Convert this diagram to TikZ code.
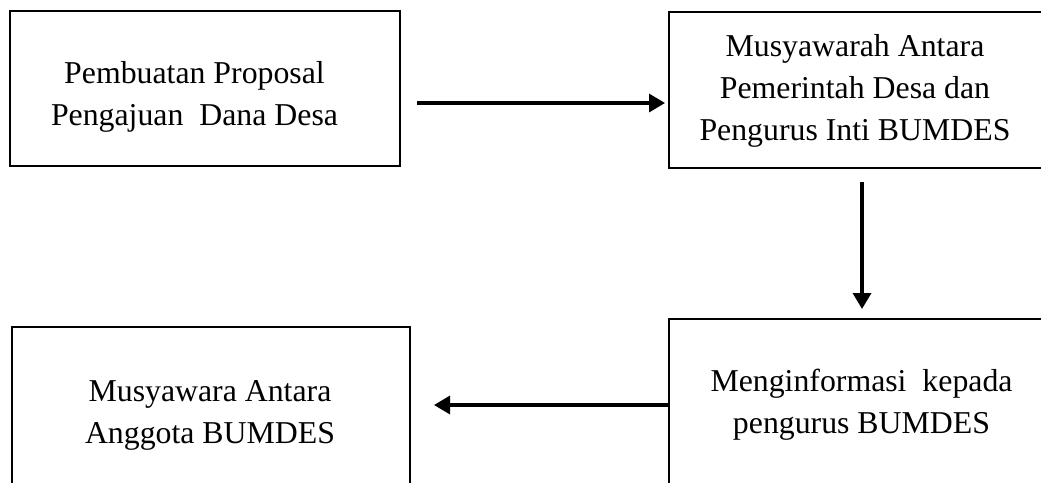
\documentclass[tikz,border=0pt]{standalone}
\usepackage{fontspec}
\setmainfont{Liberation Serif}
\usetikzlibrary{arrows.meta}
\newcommand\linestack[1]{\begin{tabular}[t]{@{}c@{}}#1\end{tabular}}
\begin{document}
\begin{tikzpicture}[x=1pt,y=-1pt,
  box/.style={draw, line width=2pt, inner sep=0pt},
  txt/.style={anchor=base, inner sep=0pt, font=\fontsize{31.8pt}{42pt}\selectfont},
  arr/.style={line width=3.4pt, -{Triangle[length=16pt,width=18pt]}}]
\useasboundingbox[fill=white] (0,0) rectangle (1041,482);
% boxes
\node[box, minimum width=390pt, minimum height=155pt] (b1) at (205,88.5) {};
\node[box, minimum width=380pt, minimum height=156pt] (b2) at (859,90) {};
\node[box, minimum width=398pt, minimum height=170pt] (b3) at (211,412) {};
\node[box, minimum width=380pt, minimum height=180pt] (b4) at (859,409) {};
% texts
\node[txt] (t1) at (194.5,83) {\linestack{Pembuatan Proposal\\Pengajuan\ \ Dana Desa}};
\node[txt] (t2) at (855,56) {\linestack{Musyawarah Antara\\Pemerintah Desa dan\\Pengurus Inti BUMDES}};
\node[txt] (t3) at (210,401) {\linestack{Musyawara Antara\\Anggota BUMDES}};
\node[txt] (t4) at (861.5,391) {\linestack{Menginformasi\ \ kepada\\pengurus BUMDES}};
% connectors
\coordinate (a1s) at (417,103);
\draw[arr, shorten >=3pt] (a1s) -- (a1s -| b2.west);
\coordinate (a2s) at (862,182);
\draw[arr, shorten >=9pt] (a2s) -- (a2s |- b4.north);
\coordinate (a3e) at (434,405);
\draw[arr] (b4.west |- a3e) -- (a3e);
\end{tikzpicture}
\end{document}
